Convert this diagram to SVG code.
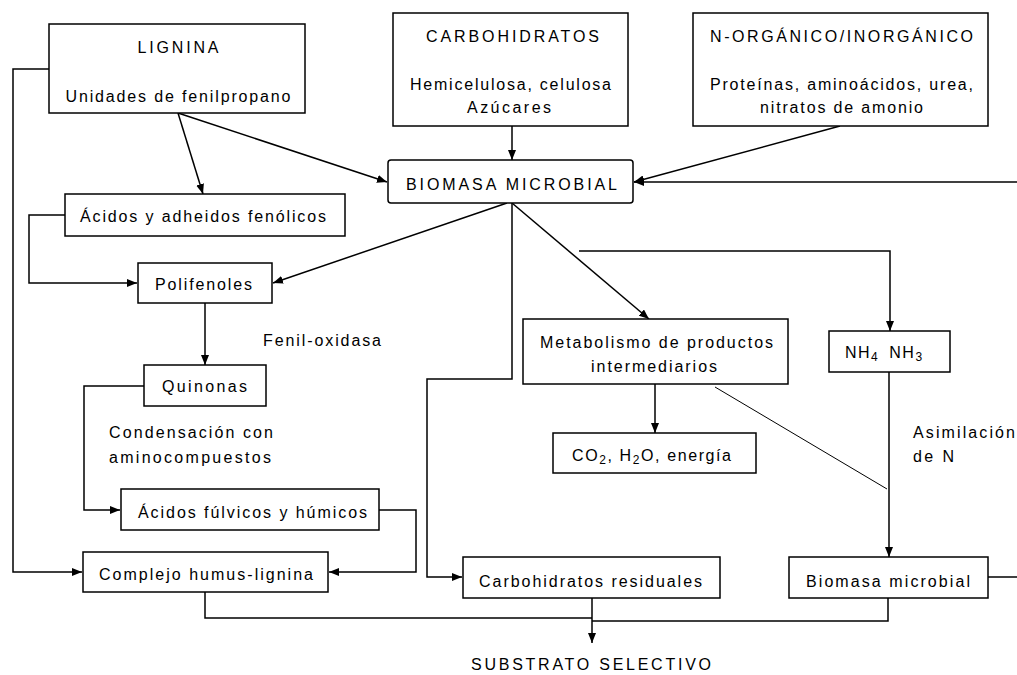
<svg xmlns="http://www.w3.org/2000/svg" width="1017" height="675" viewBox="0 0 1017 675">
<style>
.box{fill:#fff;stroke:#000;stroke-width:1.5}
.ln{fill:none;stroke:#000;stroke-width:1.5}
.thin{fill:none;stroke:#000;stroke-width:1}
text{font-family:"Liberation Sans",Arial,sans-serif;font-size:16px;fill:#000}
.c{text-anchor:middle}
.sub{font-size:12px}
</style>
<defs>
<marker id="ah" markerUnits="userSpaceOnUse" markerWidth="10" markerHeight="8" refX="10" refY="4" orient="auto">
<path d="M0,0 L10,4 L0,8 z" fill="#000"/>
</marker>
</defs>
<rect width="1017" height="675" fill="#fff"/>
<g id="connectors">
<polyline class="ln" points="49,69 13,69 13,572 82,572" marker-end="url(#ah)"/>
<line class="ln" x1="178" y1="113" x2="203" y2="194" marker-end="url(#ah)"/>
<line class="ln" x1="178" y1="113" x2="387" y2="182" marker-end="url(#ah)"/>
<line class="ln" x1="512" y1="126" x2="512" y2="160" marker-end="url(#ah)"/>
<line class="ln" x1="840" y1="126" x2="634" y2="182" marker-end="url(#ah)"/>
<line class="ln" x1="1017" y1="182" x2="634" y2="182" marker-end="url(#ah)"/>
<polyline class="ln" points="65,215 29,215 29,283 137,283" marker-end="url(#ah)"/>
<line class="ln" x1="507" y1="203" x2="273" y2="283" marker-end="url(#ah)"/>
<line class="ln" x1="205" y1="303" x2="205" y2="365" marker-end="url(#ah)"/>
<polyline class="ln" points="144,386 84,386 84,510 120,510" marker-end="url(#ah)"/>
<polyline class="ln" points="379,510 416,510 416,572 329,572" marker-end="url(#ah)"/>
<polyline class="ln" points="512,203 512,379 427,379 427,577 462,577" marker-end="url(#ah)"/>
<line class="ln" x1="512" y1="203" x2="649" y2="319" marker-end="url(#ah)"/>
<polyline class="ln" points="579,251 890,251 890,331" marker-end="url(#ah)"/>
<line class="ln" x1="655" y1="384" x2="655" y2="433" marker-end="url(#ah)"/>
<line class="thin" x1="715" y1="387" x2="887" y2="489"/>
<line class="ln" x1="889" y1="372" x2="889" y2="557" marker-end="url(#ah)"/>
<polyline class="ln" points="205,592 205,618 592,618"/>
<line class="ln" x1="592" y1="598" x2="592" y2="643" marker-end="url(#ah)"/>
<polyline class="ln" points="888,598 888,621 592,621"/>
<line class="ln" x1="988" y1="577" x2="1017" y2="577"/>
</g>
<g id="lignina">
<rect class="box" x="49" y="24" width="256" height="89"/>
<text class="c" x="178" y="53" textLength="81" lengthAdjust="spacing">LIGNINA</text>
<text class="c" x="178" y="102" textLength="225" lengthAdjust="spacing">Unidades de fenilpropano</text>
</g>
<g id="carbohidratos">
<rect class="box" x="393" y="13" width="235" height="113"/>
<text class="c" x="512.5" y="42" textLength="173" lengthAdjust="spacing">CARBOHIDRATOS</text>
<text class="c" x="510.5" y="90" textLength="201" lengthAdjust="spacing">Hemicelulosa, celulosa</text>
<text class="c" x="509" y="113" textLength="84" lengthAdjust="spacing">Azúcares</text>
</g>
<g id="n-organico">
<rect class="box" x="693" y="13" width="295" height="113"/>
<text class="c" x="841.5" y="42" textLength="263" lengthAdjust="spacing">N-ORGÁNICO/INORGÁNICO</text>
<text class="c" x="841.5" y="90" textLength="263" lengthAdjust="spacing">Proteínas, aminoácidos, urea,</text>
<text class="c" x="841.5" y="113" textLength="163" lengthAdjust="spacing">nitratos de amonio</text>
</g>
<g id="biomasa">
<rect class="box" x="388" y="160" width="245" height="43" rx="3"/>
<text class="c" x="511.5" y="190" textLength="211" lengthAdjust="spacing">BIOMASA MICROBIAL</text>
</g>
<g id="acidos-fenolicos">
<rect class="box" x="65" y="194" width="280" height="42"/>
<text class="c" x="203" y="222" textLength="246" lengthAdjust="spacing">Ácidos y adheidos fenólicos</text>
</g>
<g id="polifenoles">
<rect class="box" x="138" y="263" width="134" height="40"/>
<text class="c" x="203.5" y="290" textLength="97" lengthAdjust="spacing">Polifenoles</text>
</g>
<g id="fenil-oxidasa">
<text x="263" y="346" textLength="118" lengthAdjust="spacing">Fenil-oxidasa</text>
</g>
<g id="quinonas">
<rect class="box" x="144" y="365" width="122" height="41"/>
<text class="c" x="204.5" y="392" textLength="85" lengthAdjust="spacing">Quinonas</text>
</g>
<g id="condensacion">
<text x="109" y="438" textLength="164" lengthAdjust="spacing">Condensación con</text>
<text x="109" y="463" textLength="162" lengthAdjust="spacing">aminocompuestos</text>
</g>
<g id="acidos-fulvicos">
<rect class="box" x="121" y="489" width="258" height="41"/>
<text class="c" x="252.5" y="518" textLength="229" lengthAdjust="spacing">Ácidos fúlvicos y húmicos</text>
</g>
<g id="complejo">
<rect class="box" x="83" y="552" width="245" height="40"/>
<text class="c" x="206" y="580" textLength="214" lengthAdjust="spacing">Complejo humus-lignina</text>
</g>
<g id="metabolismo">
<rect class="box" x="523" y="319" width="265" height="65"/>
<text class="c" x="656.5" y="348" textLength="233" lengthAdjust="spacing">Metabolismo de productos</text>
<text class="c" x="654" y="372" textLength="126" lengthAdjust="spacing">intermediarios</text>
</g>
<g id="co2">
<rect class="box" x="553" y="433" width="203" height="40"/>
<text x="572" y="461" letter-spacing="1.6">CO<tspan class="sub" dy="3">2</tspan><tspan dy="-3">, H</tspan><tspan class="sub" dy="3">2</tspan><tspan dy="-3">O, energía</tspan></text>
</g>
<g id="nh">
<rect class="box" x="829" y="331" width="121" height="41"/>
<text x="845" y="358" letter-spacing="1.5">NH<tspan class="sub" dy="3">4</tspan><tspan dy="-3" dx="10">NH</tspan><tspan class="sub" dy="3">3</tspan></text>
</g>
<g id="asimilacion">
<text x="913" y="438" textLength="102" lengthAdjust="spacing">Asimilación</text>
<text x="913" y="462" textLength="41" lengthAdjust="spacing">de N</text>
</g>
<g id="carb-residuales">
<rect class="box" x="463" y="557" width="257" height="41"/>
<text class="c" x="590.5" y="587" textLength="223" lengthAdjust="spacing">Carbohidratos residuales</text>
</g>
<g id="biomasa-microbial">
<rect class="box" x="789" y="557" width="199" height="41"/>
<text class="c" x="888" y="587" textLength="164" lengthAdjust="spacing">Biomasa microbial</text>
</g>
<g id="substrato">
<text class="c" x="591" y="670" textLength="240" lengthAdjust="spacing">SUBSTRATO SELECTIVO</text>
</g>
</svg>
